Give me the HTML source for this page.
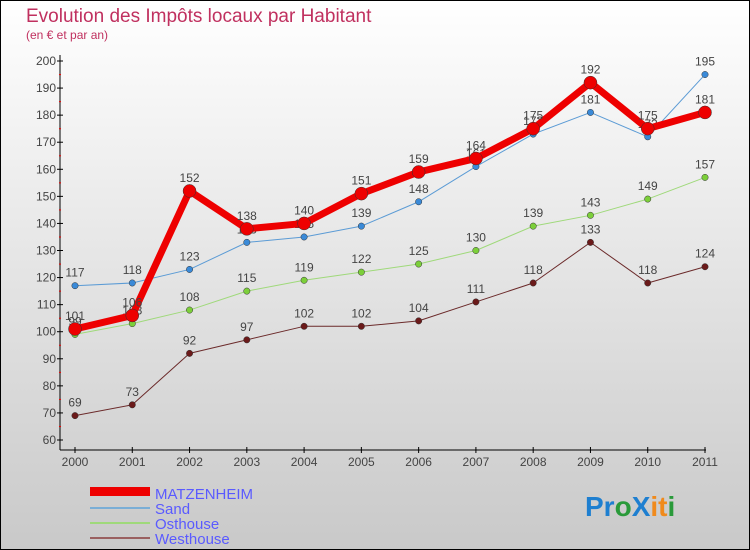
<!DOCTYPE html>
<html><head><meta charset="utf-8"><style>
body{margin:0}
svg{display:block;font-family:"Liberation Sans",sans-serif}
</style></head><body>
<svg id="c" width="750" height="550" xmlns="http://www.w3.org/2000/svg">
<defs><linearGradient id="bg" x1="0" y1="0" x2="0" y2="1"><stop offset="0" stop-color="#ffffff"/><stop offset="1" stop-color="#c9c9c9"/></linearGradient></defs>
<rect x="0.5" y="0.5" width="749" height="549" fill="url(#bg)" stroke="#000"/>
<text x="26" y="22" font-size="19" fill="#c0305f">Evolution des Impôts locaux par Habitant</text>
<text x="26" y="39" font-size="12" fill="#c0305f">(en € et par an)</text>
<g id="axes"></g><g id="series"></g>
<g>
<rect x="90" y="487" width="60" height="9" fill="#e00"/>
<text x="155" y="499" font-size="15" fill="#5a5aff">MATZENHEIM</text>
<line x1="90" y1="508" x2="150" y2="508" stroke="#7aaed6" stroke-width="2"/>
<text x="155" y="514" font-size="15" fill="#5a5aff">Sand</text>
<line x1="90" y1="523" x2="150" y2="523" stroke="#9fd97a" stroke-width="2"/>
<text x="155" y="529" font-size="15" fill="#5a5aff">Osthouse</text>
<line x1="90" y1="538" x2="150" y2="538" stroke="#9a6060" stroke-width="2"/>
<text x="155" y="544" font-size="15" fill="#5a5aff">Westhouse</text>
</g>
<g font-size="28" font-weight="bold">
<text x="585" y="516"><tspan fill="#1e7fd0">Pr</tspan><tspan fill="#2a9a3a">o</tspan><tspan fill="#1e7fd0">X</tspan><tspan fill="#f08a1c">it</tspan><tspan fill="#2a9a3a">i</tspan></text>
</g>
</svg>
<script>
const years=["2000","2001","2002","2003","2004","2005","2006","2007","2008","2009","2010","2011"];
const yTicks=[60,70,80,90,100,110,120,130,140,150,160,170,180,190,200];
const matzenheim=[101,106,152,138,140,151,159,164,175,192,175,181];
const sand=[117,118,123,133,135,139,148,161,173,181,172,195];
const osthouse=[99,103,108,115,119,122,125,130,139,143,149,157];
const westhouse=[69,73,92,97,102,102,104,111,118,133,118,124];
const NS="http://www.w3.org/2000/svg";
function xS(i){return 75+i*(705-75)/(years.length-1);}
function yS(v){return 440-(v-60)*(440-61)/140;}
function mk(t,a,p){const e=document.createElementNS(NS,t);for(const k in a)e.setAttribute(k,a[k]);p.appendChild(e);return e;}
const ax=document.getElementById('axes');
let l=mk('line',{x1:60,y1:55,x2:60,y2:450,stroke:'#000'},ax);


l=mk('line',{x1:60,y1:450,x2:706,y2:450,stroke:'#000'},ax);


yTicks.forEach((v,i)=>{const y=yS(v);
mk('line',{x1:57,y1:y,x2:63,y2:y,stroke:'#000'},ax);
if(i<yTicks.length-1)mk('line',{x1:59,y1:y-13.5,x2:61,y2:y-13.5,stroke:'#e00'},ax);
const t=mk('text',{x:56,y:y+4,'font-size':12,fill:'#444','text-anchor':'end'},ax);t.textContent=v;

});
years.forEach((yr,i)=>{const x=xS(i);
mk('line',{x1:x,y1:447,x2:x,y2:453,stroke:'#000'},ax);
const t=mk('text',{x:x,y:466,'font-size':12,fill:'#444','text-anchor':'middle'},ax);t.textContent=yr;

});
const sg=document.getElementById('series');
function draw(name,data,color,w,r,dot){
const g=mk('g',{},sg);


mk('polyline',{points:data.map((v,i)=>xS(i)+','+yS(v)).join(' '),fill:'none',stroke:color,'stroke-width':w,'stroke-linejoin':'round'},g);
data.forEach((v,i)=>{const c=mk('circle',{cx:xS(i),cy:yS(v),r:r,fill:dot,stroke:'#333','stroke-width':0.5},g);


const t=mk('text',{x:xS(i),y:yS(v)-9,'font-size':12,fill:'#444','text-anchor':'middle'},g);t.textContent=v;

});
}
draw('westhouse',westhouse,'#6b2a2a',1,3.2,'#6b1a1a');
draw('osthouse',osthouse,'#9fd97a',1,3.2,'#7ccf3a');
draw('sand',sand,'#5b9bd5',1,3.2,'#3a8ad8');
draw('matzenheim',matzenheim,'#ee0000',7,6.5,'#ee0000');
</script>
</body></html>
